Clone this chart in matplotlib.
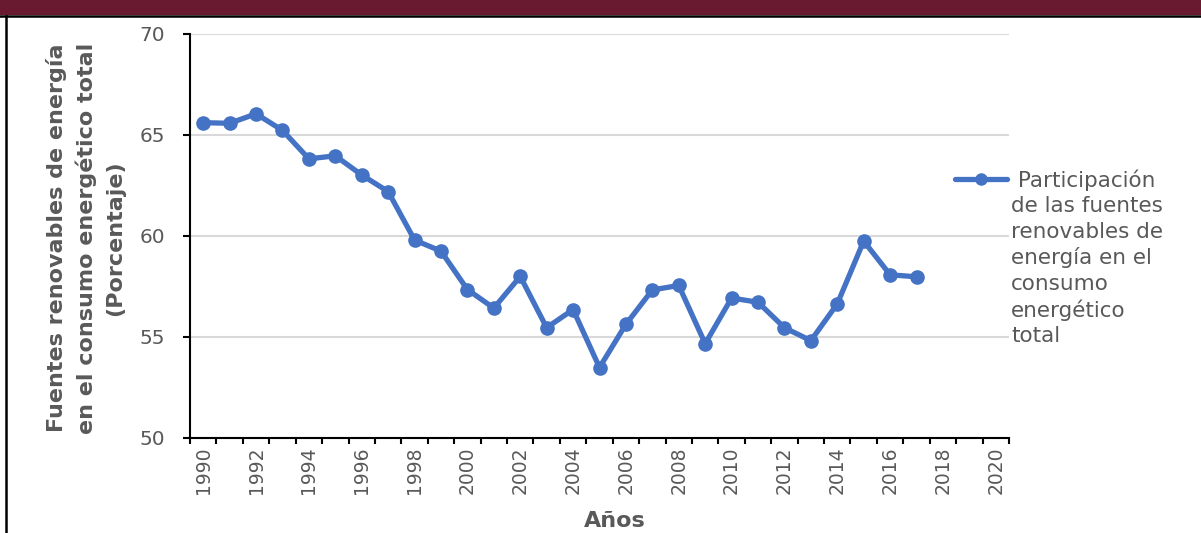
import matplotlib
matplotlib.use("Agg")
import matplotlib.pyplot as plt
from matplotlib.lines import Line2D
from matplotlib.patches import Rectangle
import numpy as np

years = list(range(1990, 2018))
values = [65.61, 65.58, 66.05, 65.23, 63.82, 63.97, 63.02, 62.20, 59.80, 59.25,
          57.35, 56.43, 58.00, 55.46, 56.36, 53.49, 55.63, 57.33, 57.55, 54.67,
          56.93, 56.72, 55.46, 54.82, 56.64, 59.75, 58.08, 57.98]
xtick_years = list(range(1990, 2021, 2))
yticks = [50, 55, 60, 65, 70]
ylabel_lines = ["Fuentes renovables de energía", "en el consumo energético total", "(Porcentaje)"]
legend_lines = [" Participación", "de las fuentes", "renovables de", "energía en el",
                "consumo", "energético", "total"]
xlabel = "Años"

FONT = ["DejaVu Sans"]
plt.rcParams['font.family'] = FONT
GRAY = "#595959"
BLUE = "#4472C4"
W, H = 1201, 533

fig = plt.figure(figsize=(W/100, H/100), dpi=100)

def fx(px):
    return px / W

def fy(py):
    return 1 - py / H

# header bar and frame
fig.add_artist(Rectangle((0, fy(15)), 1, 15/H, transform=fig.transFigure,
                         facecolor="#691A30", edgecolor="none"))
fig.add_artist(Line2D([0, 1], [fy(16), fy(16)], transform=fig.transFigure, color="black", lw=1.8))
fig.add_artist(Line2D([fx(6), fx(6)], [fy(16), 0], transform=fig.transFigure, color="black", lw=1.8))

ax = fig.add_axes([fx(190), fy(438), fx(1009) - fx(190), fy(34) - fy(438)])
ax.plot(years, values, color=BLUE, lw=3.8, marker='o', markersize=9.5, solid_capstyle='round', zorder=3)

ax.set_xlim(1989.5, 2020.5)
ax.set_ylim(50, 70)
ax.set_yticks(yticks)
ax.set_xticks(xtick_years)
ax.set_xticklabels([str(y) for y in xtick_years], rotation=90, color=GRAY, fontsize=13.5)
ax.set_xticks(np.arange(1989.5, 2021, 1.0), minor=True)
ax.tick_params(axis='x', which='major', length=0, pad=6)
ax.tick_params(axis='x', which='minor', length=4, width=1.5, direction='out', color='black')
ax.tick_params(axis='y', which='major', length=5, width=1.5, direction='out', color='black',
               labelcolor=GRAY, labelsize=14.5, pad=13)
ax.grid(axis='y', color="#D9D9D9", lw=1.5, zorder=0)
ax.set_axisbelow(True)
for s in ['top', 'right']:
    ax.spines[s].set_visible(False)
for s in ['left', 'bottom']:
    ax.spines[s].set_linewidth(1.5)
    ax.spines[s].set_color('black')

# y label (three lines)
for px, line in zip([57, 86, 115], ylabel_lines):
    fig.text(fx(px), fy(238), line, rotation=90, ha='center', va='center',
             fontsize=16, fontweight='bold', color=GRAY)

fig.text(fx(615), fy(521), xlabel, ha='center', va='center', fontsize=16,
         fontweight='bold', color=GRAY)

# legend
fig.add_artist(Line2D([fx(955), fx(1007)], [fy(179), fy(179)], transform=fig.transFigure,
                      color=BLUE, lw=3.8, solid_capstyle='round'))
fig.add_artist(Line2D([fx(981)], [fy(179)], transform=fig.transFigure, color=BLUE,
                      marker='o', markersize=8, lw=0))
for i, line in enumerate(legend_lines):
    fig.text(fx(1011), fy(180 + 26 * i), line, ha='left', va='center', fontsize=15.5, color=GRAY)

fig.savefig("out.png", dpi=100)
